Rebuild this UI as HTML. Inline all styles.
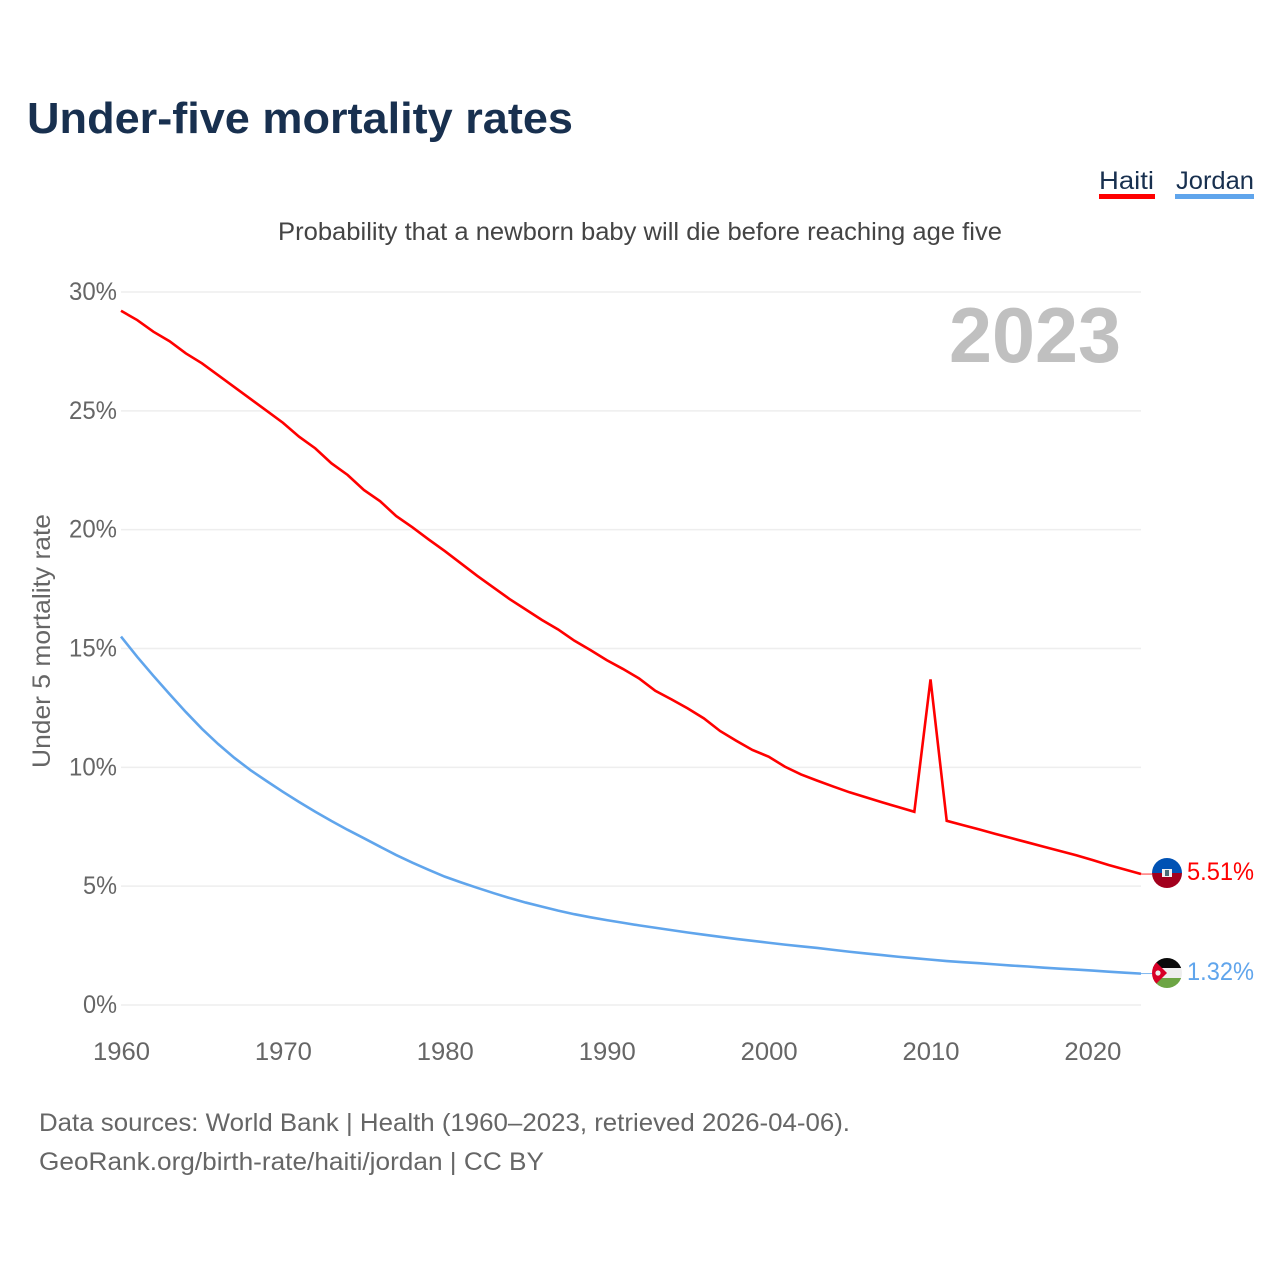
<!DOCTYPE html>
<html lang="en">
<head>
<meta charset="utf-8">
<title>Under-five mortality rates</title>
<style>
html,body{margin:0;padding:0;background:#fff;}
svg{display:block;font-family:"Liberation Sans",sans-serif;}
</style>
</head>
<body>
<svg id="chart" xmlns="http://www.w3.org/2000/svg" width="1280" height="1280" viewBox="0 0 1280 1280">
  <rect x="0" y="0" width="1280" height="1280" fill="#ffffff"/>
  <text x="27" y="133" font-size="44" font-weight="700" fill="#18304f" textLength="546" lengthAdjust="spacingAndGlyphs">Under-five mortality rates</text>
  <text x="278" y="240" font-size="25" fill="#444444" textLength="724" lengthAdjust="spacingAndGlyphs">Probability that a newborn baby will die before reaching age five</text>

  <g>
    <text x="1099" y="189" font-size="25" fill="#18304f" textLength="55" lengthAdjust="spacingAndGlyphs">Haiti</text>
    <rect x="1099" y="194" width="56" height="5" fill="#ff0000"/>
  </g>
  <g>
    <text x="1176" y="189" font-size="25" fill="#18304f" textLength="78" lengthAdjust="spacingAndGlyphs">Jordan</text>
    <rect x="1175" y="194" width="79" height="5" fill="#60a5ec"/>
  </g>

  <g id="grid"></g>
  <g id="yLabels"></g>
  <g id="xLabels"></g>

  <text transform="translate(50,768) rotate(-90)" font-size="25" fill="#666666" textLength="254" lengthAdjust="spacingAndGlyphs">Under 5 mortality rate</text>
  <text x="949" y="362" font-size="78" font-weight="700" fill="#c0c0c0" textLength="172" lengthAdjust="spacingAndGlyphs">2023</text>

  <g id="series"></g>

  <defs>
    <clipPath id="clip-haiti"><circle cx="1167" cy="873" r="15"/></clipPath>
    <clipPath id="clip-jordan"><circle cx="1167" cy="973" r="15"/></clipPath>
  </defs>
  <g clip-path="url(#clip-haiti)">
    <rect x="1152" y="858" width="30" height="15" fill="#0052b4"/>
    <rect x="1152" y="873" width="30" height="15" fill="#a2001d"/>
    <rect x="1162" y="869" width="10" height="8" fill="#f2f2f2"/>
    <rect x="1165" y="870" width="4" height="6" fill="#4a6f78"/>
  </g>
  <g clip-path="url(#clip-jordan)">
    <rect x="1152" y="958" width="30" height="10" fill="#0a0a0a"/>
    <rect x="1152" y="968" width="30" height="10" fill="#eeeeee"/>
    <rect x="1152" y="978" width="30" height="10" fill="#6da544"/>
    <polygon points="1152,958 1167,973 1152,988" fill="#d80027"/>
    <circle cx="1158" cy="973" r="2.6" fill="#eeeeee"/>
  </g>

  <text x="1187" y="880" font-size="25" fill="#ff0000" textLength="67" lengthAdjust="spacingAndGlyphs">5.51%</text>
  <text x="1187" y="980" font-size="25" fill="#60a5ec" textLength="67" lengthAdjust="spacingAndGlyphs">1.32%</text>

  <text x="39" y="1131" font-size="25" fill="#666666" textLength="811" lengthAdjust="spacingAndGlyphs">Data sources: World Bank | Health (1960–2023, retrieved 2026-04-06).</text>
  <a><text x="39" y="1170" font-size="25" fill="#666666" textLength="505" lengthAdjust="spacingAndGlyphs">GeoRank.org/birth-rate/haiti/jordan | CC BY</text></a>
</svg>
<script>
const startYear = 1960;
const endYear = 2023;
const yTicks = [0, 5, 10, 15, 20, 25, 30];
const xTicks = [1960, 1970, 1980, 1990, 2000, 2010, 2020];
const haitiValues = [
  29.21, 28.82, 28.33, 27.93, 27.42, 27.0, 26.5, 26.0, 25.5, 25.0,
  24.5, 23.91, 23.42, 22.79, 22.3, 21.67, 21.2, 20.57, 20.1, 19.59,
  19.1, 18.58, 18.06, 17.57, 17.08, 16.64, 16.2, 15.8, 15.33, 14.93,
  14.51, 14.14, 13.74, 13.22, 12.86, 12.48, 12.06, 11.53, 11.12, 10.73,
  10.45, 10.03, 9.7, 9.44, 9.19, 8.95, 8.74, 8.53, 8.33, 8.13,
  13.7, 7.75, 7.57, 7.39, 7.2, 7.02, 6.84, 6.66, 6.48, 6.3,
  6.1, 5.89, 5.7, 5.51
];
const jordanValues = [
  15.5, 14.65, 13.85, 13.08, 12.33, 11.62, 10.98, 10.4, 9.88, 9.42,
  8.97, 8.54, 8.13, 7.74, 7.37, 7.02, 6.66, 6.31, 5.99, 5.69,
  5.4, 5.16, 4.93, 4.71, 4.5, 4.31, 4.14, 3.97, 3.82, 3.69,
  3.57, 3.46, 3.35, 3.25, 3.15, 3.05, 2.96, 2.87, 2.78, 2.7,
  2.62, 2.54, 2.47, 2.4, 2.32, 2.24, 2.17, 2.1, 2.03, 1.97,
  1.91, 1.85, 1.8, 1.76, 1.71, 1.66, 1.62, 1.57, 1.53, 1.49,
  1.45, 1.4, 1.36, 1.32
];

const NS = 'http://www.w3.org/2000/svg';
const plotLeft = 121, plotRight = 1141, plotTop = 292, plotBottom = 1005, yMax = 30;
function xScale(year) { return plotLeft + (year - startYear) * (plotRight - plotLeft) / (endYear - startYear); }
function yScale(v) { return plotBottom - v * (plotBottom - plotTop) / yMax; }

const gridGroup = document.getElementById('grid');
const yLabelGroup = document.getElementById('yLabels');
const xLabelGroup = document.getElementById('xLabels');
const seriesGroup = document.getElementById('series');

yTicks.forEach(function (t) {
  const line = document.createElementNS(NS, 'line');
  
  
  line.setAttribute('x1', plotLeft);
  line.setAttribute('x2', plotRight);
  line.setAttribute('y1', yScale(t));
  line.setAttribute('y2', yScale(t));
  line.setAttribute('stroke', '#eeeeee');
  line.setAttribute('stroke-width', '1.5');
  gridGroup.appendChild(line);

  const label = document.createElementNS(NS, 'text');
  
  
  label.setAttribute('x', 117);
  label.setAttribute('y', yScale(t) + 8);
  label.setAttribute('text-anchor', 'end');
  label.setAttribute('font-size', '25');
  label.setAttribute('fill', '#666666');
  label.setAttribute('textLength', t < 10 ? 34 : 48);
  label.setAttribute('lengthAdjust', 'spacingAndGlyphs');
  label.textContent = t + '%';
  yLabelGroup.appendChild(label);
});

xTicks.forEach(function (t) {
  const label = document.createElementNS(NS, 'text');
  
  
  label.setAttribute('x', xScale(t) + 0.5);
  label.setAttribute('y', 1060);
  label.setAttribute('text-anchor', 'middle');
  label.setAttribute('font-size', '25');
  label.setAttribute('fill', '#666666');
  label.setAttribute('textLength', 57);
  label.setAttribute('lengthAdjust', 'spacingAndGlyphs');
  label.textContent = String(t);
  xLabelGroup.appendChild(label);
});

function pointsFor(values) {
  return values.map(function (v, i) {
    return xScale(startYear + i).toFixed(2) + ',' + yScale(v).toFixed(2);
  }).join(' ');
}

const haitiLine = document.createElementNS(NS, 'polyline');


haitiLine.setAttribute('points', pointsFor(haitiValues));
haitiLine.setAttribute('fill', 'none');
haitiLine.setAttribute('stroke', '#ff0000');
haitiLine.setAttribute('stroke-width', '2.6');
haitiLine.setAttribute('stroke-linejoin', 'miter');
seriesGroup.appendChild(haitiLine);

const jordanLine = document.createElementNS(NS, 'polyline');


jordanLine.setAttribute('points', pointsFor(jordanValues));
jordanLine.setAttribute('fill', 'none');
jordanLine.setAttribute('stroke', '#60a5ec');
jordanLine.setAttribute('stroke-width', '2.6');
seriesGroup.appendChild(jordanLine);

const haitiLeader = document.createElementNS(NS, 'line');


haitiLeader.setAttribute('x1', plotRight);
haitiLeader.setAttribute('x2', 1152);
haitiLeader.setAttribute('y1', yScale(haitiValues[haitiValues.length - 1]));
haitiLeader.setAttribute('y2', yScale(haitiValues[haitiValues.length - 1]));
haitiLeader.setAttribute('stroke', '#ff0000');
haitiLeader.setAttribute('stroke-width', '0.8');
seriesGroup.appendChild(haitiLeader);

const jordanLeader = document.createElementNS(NS, 'line');


jordanLeader.setAttribute('x1', plotRight);
jordanLeader.setAttribute('x2', 1152);
jordanLeader.setAttribute('y1', yScale(jordanValues[jordanValues.length - 1]));
jordanLeader.setAttribute('y2', yScale(jordanValues[jordanValues.length - 1]));
jordanLeader.setAttribute('stroke', '#60a5ec');
jordanLeader.setAttribute('stroke-width', '0.8');
seriesGroup.appendChild(jordanLeader);
</script>
</body>
</html>
